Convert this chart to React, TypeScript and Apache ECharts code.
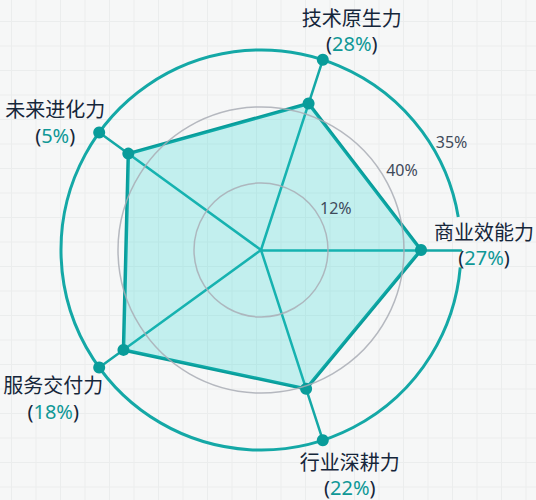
import React, { useEffect, useRef } from 'react';
import * as echarts from 'echarts';

// ---- data ----
const indicatorNames = ['商业效能力', '技术原生力', '未来进化力', '服务交付力', '行业深耕力'];
const sharePercents = ['27%', '28%', '5%', '18%', '22%'];
const scoreValues = [80, 77, 82, 85, 73];
const axisMax = 100;
const ringTickLabels = ['12%', '40%', '35%'];
const ringFractions = [0.335, 0.715, 1];

// ---- layout / style ----
const CX = 261;
const CY = 250;
const R = 200;
const TEAL = '#14a8a6';
const TEAL_DARK = '#099c9a';
const NAVY = '#15263a';
const GRAY_RING = '#a9adb5';
const FONT = '"Noto Sans", "Noto Sans CJK SC", sans-serif';
const labelOffsets: number[][] = [
  [23, -5],
  [29, -29],
  [-44, -10],
  [-46, 31],
  [27, 35],
];
const tickAngle = (29.5 * Math.PI) / 180;
const deg = (d: number) => (d * Math.PI) / 180;

export default function App() {
  const ref = useRef<HTMLDivElement>(null);

  useEffect(() => {
    if (!ref.current) return;
    const chart = echarts.init(ref.current, null, { renderer: 'svg' });

    const graphic: any[] = [
      {
        type: 'arc',
        silent: true,
        shape: { cx: CX, cy: CY, r: R, startAngle: deg(5), endAngle: deg(350.5), clockwise: true },
        style: { stroke: TEAL, lineWidth: 3, fill: 'none' },
      },
      ...ringFractions.slice(0, 2).map((f) => ({
        type: 'circle',
        silent: true,
        z: 3.5,
        shape: { cx: CX, cy: CY, r: R * f },
        style: { stroke: GRAY_RING, lineWidth: 1.5, fill: 'none', opacity: 0.85 },
      })),
      ...ringTickLabels.map((t, i) => {
        const r = R * ringFractions[i] + 19;
        return {
          type: 'text',
          silent: true,
          z: 10,
          x: CX + r * Math.cos(tickAngle),
          y: CY - r * Math.sin(tickAngle),
          style: {
            text: t,
            fontSize: 16,
            fontFamily: FONT,
            fill: '#3f4a5b',
            align: 'center',
            verticalAlign: 'middle',
          },
        };
      }),
    ];

    const option: any = {
      animation: false,
      backgroundColor: 'transparent',
      graphic,
      radar: {
        center: [CX, CY],
        radius: R,
        startAngle: 0,
        shape: 'circle',
        splitNumber: 1,
        indicator: indicatorNames.map((n) => ({ name: n, max: axisMax, min: 0 })),
        axisName: { show: false },
        splitLine: { show: false },
        splitArea: { show: false },
        axisTick: { show: false },
        axisLabel: { show: false },
        axisLine: { lineStyle: { color: TEAL, width: 2.5 } },
      },
      polar: { center: [CX, CY], radius: R },
      angleAxis: {
        type: 'category',
        data: indicatorNames,
        startAngle: 0,
        clockwise: false,
        boundaryGap: false,
        axisLine: { show: false },
        axisTick: { show: false },
        axisLabel: { show: false },
        splitLine: { show: false },
      },
      radiusAxis: {
        type: 'value',
        min: 0,
        max: axisMax,
        axisLine: { show: false },
        axisTick: { show: false },
        axisLabel: { show: false },
        splitLine: { show: false },
      },
      series: [
        {
          type: 'radar',
          z: 3,
          symbol: 'circle',
          symbolSize: 12,
          itemStyle: { color: TEAL_DARK, opacity: 1 },
          lineStyle: { color: TEAL_DARK, width: 3.5 },
          areaStyle: { color: 'rgba(30, 215, 210, 0.34)' },
          data: [{ value: scoreValues }],
        },
        {
          type: 'scatter',
          coordinateSystem: 'polar',
          z: 4,
          symbol: 'circle',
          symbolSize: 12,
          itemStyle: { color: TEAL_DARK, opacity: 1 },
          data: indicatorNames.map((n, i) => ({
            value: [axisMax, i],
            itemStyle: i === 0 ? { color: 'rgba(0,0,0,0)' } : undefined,
            label: { offset: labelOffsets[i] },
          })),
          label: {
            show: true,
            position: 'inside',
            align: 'center',
            verticalAlign: 'middle',
            opacity: 1,
            formatter: (p: any) =>
              `{n|${indicatorNames[p.dataIndex]}}\n{p|(}{v|${sharePercents[p.dataIndex]}}{p|)}`,
            rich: {
              n: { fontSize: 20, color: NAVY, fontFamily: FONT, lineHeight: 25.5, align: 'center' },
              p: { fontSize: 20, color: NAVY, fontFamily: FONT, lineHeight: 25.5 },
              v: { fontSize: 20, color: '#0f9896', fontFamily: FONT, lineHeight: 25.5 },
            },
          },
        },
      ],
    };

    chart.setOption(option);
    return () => chart.dispose();
  }, []);

  return (
    <div
      ref={ref}
      style={{
        position: 'fixed',
        left: 0,
        top: 0,
        width: 536,
        height: 500,
        backgroundColor: '#f6f7f7',
        backgroundImage:
          'linear-gradient(to right, #ebeded 1px, transparent 1px), linear-gradient(to bottom, #ebeded 1px, transparent 1px)',
        backgroundSize: '24.5px 24.5px',
        backgroundPosition: '11px 21px',
      }}
    />
  );
}
